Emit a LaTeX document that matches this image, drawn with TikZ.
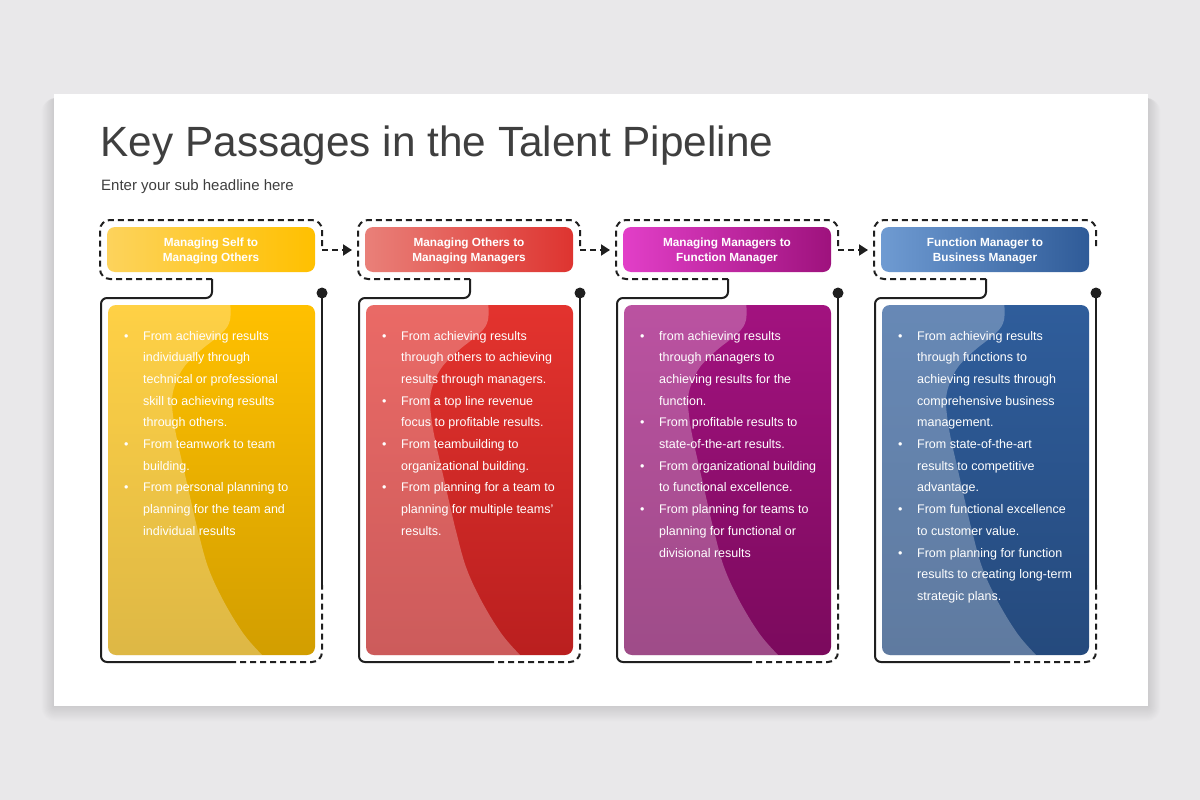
\documentclass[tikz,border=0pt]{standalone}
\usepackage{fontspec}
\setmainfont{Liberation Sans}
\usetikzlibrary{arrows.meta}
\definecolor{bgc}{HTML}{E9E8EA}
\definecolor{ink}{HTML}{1F1F1F}
\definecolor{titlec}{HTML}{3F3F3F}
\definecolor{c1hl}{HTML}{FDD35C}\definecolor{c1hr}{HTML}{FFC000}
\definecolor{c1bt}{HTML}{FFC000}\definecolor{c1bb}{HTML}{D29E00}
\definecolor{c2hl}{HTML}{E98079}\definecolor{c2hr}{HTML}{DE3430}
\definecolor{c2bt}{HTML}{E3332E}\definecolor{c2bb}{HTML}{BA1F1F}
\definecolor{c3hl}{HTML}{E23FC8}\definecolor{c3hr}{HTML}{9E127D}
\definecolor{c3bt}{HTML}{A2127F}\definecolor{c3bb}{HTML}{7B0A5D}
\definecolor{c4hl}{HTML}{6F9BD2}\definecolor{c4hr}{HTML}{2F5B98}
\definecolor{c4bt}{HTML}{2F5D9B}\definecolor{c4bb}{HTML}{254A7D}
\newcommand\bul{\llap{\makebox[19pt][l]{\textbullet}}}
\tikzset{
 dashln/.style={draw=ink, line width=2pt, dash pattern=on 6pt off 4pt},
 solidln/.style={draw=ink, line width=2pt},
 hdr/.style={rounded corners=8pt, minimum width=208pt, minimum height=45pt, inner sep=0pt},
 hdrtxt/.style={inner sep=0pt, text=white, align=center, font=\bfseries\fontsize{11.8}{15}\selectfont},
 bodybox/.style={rounded corners=8pt, minimum width=207pt, minimum height=350pt, inner sep=0pt},
 bodytxt/.style={anchor=north west, inner sep=0pt, align=left, text=white, font=\fontsize{12.5}{21.7}\selectfont},
}
\newcommand\pipecol[5]{%
\begin{scope}[xshift=#2pt]
 \node[hdr, left color=#3hl, right color=#3hr] (h#1) at (211,249.5) {};
 \node[hdrtxt] (hl#1) at (211,251.3) {#4};
 \node[bodybox, top color=#3bt, bottom color=#3bb] (b#1) at (211.5,480) {};
 \begin{scope}
  \clip[rounded corners=8pt] (b#1.north west) rectangle (b#1.south east);
  \fill[white, opacity=0.27] plot[smooth, tension=0.6] coordinates {(230,300) (230,320) (222,333) (201,350) (184,367) (175,385) (172,401) (174,423) (178,444) (183,466) (188,488) (193,510) (198,531) (208,567) (223,600) (243,633) (262,655) (270,662)} -- (100,662) -- (100,300) -- cycle;
 \end{scope}
 \node[bodytxt] (t#1) at (143,330.8) {#5};
 \coordinate (s#1) at (212,279);
 \coordinate (o#1) at (322,250);
 \coordinate (in#1) at (94,250);
 \coordinate (d#1) at (322,293);
 \coordinate (m#1) at (230,662);
 \coordinate (q#1) at (322,585);
 \draw[dashln, rounded corners=10pt] (s#1) -- (100,279) -- (100,220) -- (322,220) -- (o#1);
 \draw[solidln, rounded corners=6pt] (s#1) -- (212,298) -- (101,298) -- (101,662) -- (m#1);
 \draw[dashln, rounded corners=10pt] (m#1) -- (322,662) -- (q#1);
 \draw[solidln] (q#1) -- (d#1);
 \fill[ink] (d#1) circle (5.5pt);
\end{scope}}
\begin{document}
\begin{tikzpicture}[x=1pt,y=-1pt]
\useasboundingbox (0,0) rectangle (1200,800);
\fill[bgc] (0,0) rectangle (1200,800);
\foreach \k in {1,...,14}{\fill[black, opacity=0.007, rounded corners=\k pt] (54-0.9*\k, 98) rectangle (1148+0.9*\k, 706+1.1*\k);}
\fill[white] (54,94) rectangle (1148,706);
\node[anchor=base west, inner sep=0pt, text=titlec, font=\fontsize{42.3}{50}\selectfont] (title) at (100.5,156) {Key Passages in the Talent Pipeline};
\node[anchor=base west, inner sep=0pt, text=titlec, font=\fontsize{15}{18}\selectfont] (sub) at (101,190) {Enter your sub headline here};
\pipecol{1}{0}{c1}{Managing Self to\\Managing Others}{\bul From achieving results\\individually through\\technical or professional\\skill to achieving results\\through others.\\\bul From teamwork to team\\building.\\\bul From personal planning to\\planning for the team and\\individual results}
\pipecol{2}{258}{c2}{Managing Others to\\Managing Managers}{\bul From achieving results\\through others to achieving\\results through managers.\\\bul From a top line revenue\\focus to profitable results.\\\bul From teambuilding to\\organizational building.\\\bul From planning for a team to\\planning for multiple teams'\\results.}
\pipecol{3}{516}{c3}{Managing Managers to\\Function Manager}{\bul from achieving results\\through managers to\\achieving results for the\\function.\\\bul From profitable results to\\state-of-the-art results.\\\bul From organizational building\\to functional excellence.\\\bul From planning for teams to\\planning for functional or\\divisional results}
\pipecol{4}{774}{c4}{Function Manager to\\Business Manager}{\bul From achieving results\\through functions to\\achieving results through\\comprehensive business\\management.\\\bul From state-of-the-art\\results to competitive\\advantage.\\\bul From functional excellence\\to customer value.\\\bul From planning for function\\results to creating long-term\\strategic plans.}
\draw[dashln, -{Triangle[length=9pt,width=11pt]}] (o1) -- (in2);
\draw[dashln, -{Triangle[length=9pt,width=11pt]}] (o2) -- (in3);
\draw[dashln, -{Triangle[length=9pt,width=11pt]}] (o3) -- (in4);
\end{tikzpicture}
\end{document}
